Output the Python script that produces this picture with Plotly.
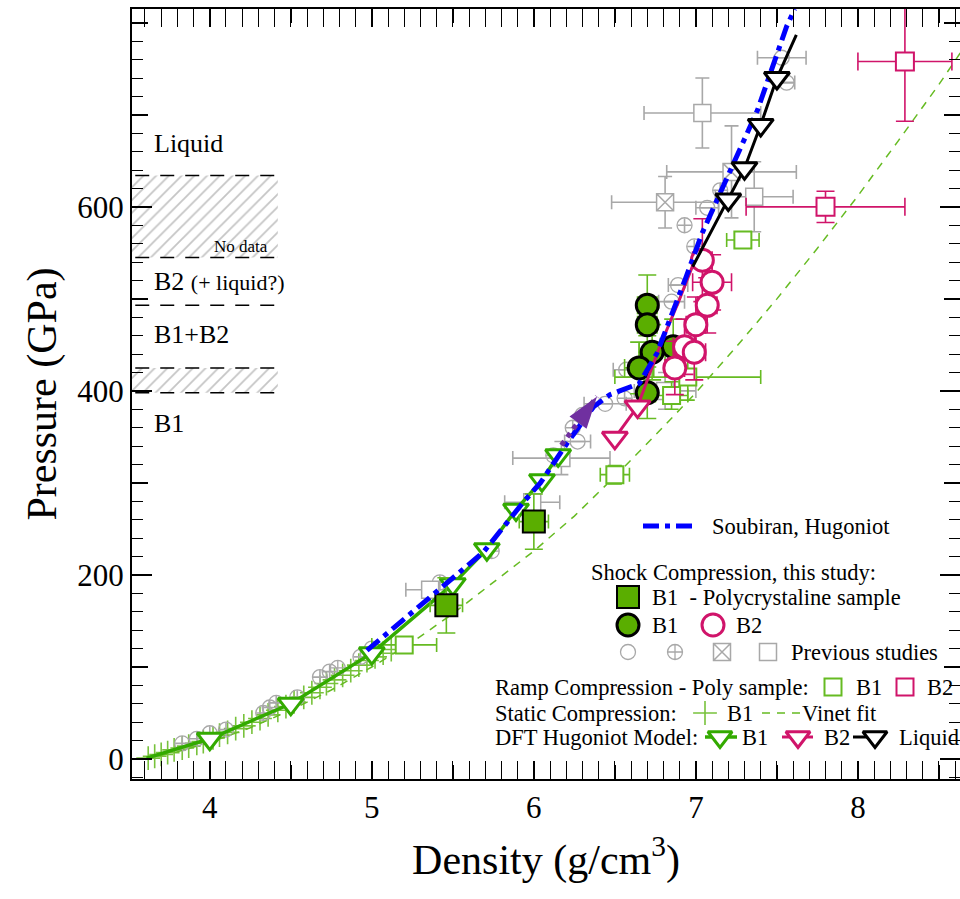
import plotly.graph_objects as go

FONT = "Liberation Serif"

# ---------------- colours ----------------
GREEN_FILL = "#5aae00"
GREEN_DFT = "#33aa00"
GREEN_LIGHT = "#78c23c"
GREEN_RAMP = "#66bb22"
CRIMSON = "#d0146a"
BLUE = "#0000ff"
PURPLE = "#7030a0"
GRAY = "#a8a8a8"

# ---------------- data ----------------
# Static compression, B1 (diamond-anvil data)
static_d = [3.62, 3.66, 3.70, 3.74, 3.78, 3.83, 3.87, 3.92, 3.96, 4.02, 4.06, 4.11, 4.16, 4.21,
            4.26, 4.31, 4.36, 4.42, 4.47, 4.52, 4.58, 4.63, 4.68, 4.72, 4.77, 4.82, 4.87, 4.92,
            4.97, 5.02, 5.07, 5.12]
static_p = [1, 3, 5, 7, 10, 12, 14, 17, 19, 23, 26, 29, 33, 36,
            40, 44, 48, 53, 57, 62, 67, 72, 78, 82, 86, 91, 96, 102,
            107, 111, 115, 119]

# Vinet fit of the static data
vinet_d = [3.60, 3.80, 4.00, 4.25, 4.50, 4.75, 5.00, 5.25, 5.50, 5.75, 6.00, 6.25, 6.50,
           6.75, 7.00, 7.25, 7.50, 7.75, 8.00, 8.25, 8.50, 8.65]
vinet_p = [0, 8, 18, 34, 53, 75, 100, 127, 158, 192, 226, 264, 307,
           352, 398, 448, 500, 555, 612, 672, 733, 772]

# Previous shock studies
prev_circ_d = [3.83, 3.92, 4.00, 4.10, 4.33, 4.37, 4.41, 4.54, 4.68, 4.74, 4.93, 5.00, 5.42,
               6.12, 6.24, 6.27, 6.30, 6.44, 6.56, 6.57, 6.85, 6.89, 6.93, 6.99, 7.07, 7.15,
               7.53, 7.56]
prev_circ_p = [17, 22, 28, 32, 50, 56, 61, 67, 89, 95, 111, 120, 192,
               330, 360, 345, 374, 386, 392, 423, 497, 515, 580, 557, 599, 618,
               762, 735]
prev_circ_xerr = [0, 0, 0, 0, 0, 0, 0, 0, 0, 0, 0, 0, 0,
                  0, 0, 0.08, 0, 0.13, 0, 0.08, 0.08, 0.06, 0, 0, 0.07, 0,
                  0.15, 0.05]
prev_circ_yerr = [0, 0, 0, 0, 0, 0, 0, 0, 0, 0, 0, 0, 0,
                  0, 0, 0, 0, 0, 0, 0, 0, 0, 0, 0, 0, 0,
                  0, 0]

prev_cplus_d = [4.79, 5.74]
prev_cplus_p = [99, 226]

prev_sqx_d = [6.81, 7.22]
prev_sqx_p = [605, 638]
prev_sqx_xerr = [0.33, 0.40]
prev_sqx_yerr = [28, 50]

prev_sq_d = [5.36, 5.99, 6.17, 6.81, 7.04, 7.36]
prev_sq_p = [184, 279, 327, 400, 702, 611]
prev_sq_xerr = [0.15, 0.17, 0.30, 0.19, 0.36, 0.24]
prev_sq_yerr = [0, 0, 18, 20, 38, 38]

# Ramp compression, polycrystalline sample
ramp_b1_d = [5.20, 6.50, 6.85, 6.95, 7.29]
ramp_b1_p = [124, 309, 395, 415, 564]
ramp_b1_xerr = [0.20, 0.09, 0.10, 0.45, 0.10]
ramp_b1_yerr = [0, 10, 15, 25, 8]

ramp_b2_d = [7.80, 8.29]
ramp_b2_p = [600, 758]
ramp_b2_xerr = [0.49, 0.29]
ramp_b2_yerr = [17, 65]

# DFT Hugoniot model
dft_b1_d = [3.61, 4.00, 4.50, 5.00, 5.50, 5.71, 5.89, 6.05, 6.15]
dft_b1_p = [1, 22, 60, 115, 190, 228, 271, 303, 330]
dft_b1_mark = [False, True, True, True, True, True, True, True, True]

dft_b2_d = [6.50, 6.64, 6.77, 6.90, 7.00]
dft_b2_p = [349, 383, 445, 500, 545]
dft_b2_mark = [True, True, False, False, False]

dft_liq_d = [6.98, 7.20, 7.30, 7.40, 7.50, 7.62]
dft_liq_p = [535, 608, 642, 689, 740, 787]
dft_liq_mark = [False, True, True, True, True, False]

# Soubiran Hugoniot
soub_d = [4.97, 5.36, 5.69, 5.93, 6.04, 6.22, 6.37, 6.47, 6.55, 6.65, 6.76, 6.84, 6.94,
          7.04, 7.23, 7.38, 7.56, 7.61]
soub_p = [118, 176, 225, 278, 300, 347, 383, 396, 401, 408, 441, 477, 524,
          572, 648, 705, 796, 815]

# B1 -> B2 path
path_d = [6.17, 6.39]
path_p = [341, 394]

# Shock compression, this study
poly_b1_d = [5.46, 6.00]
poly_b1_p = [167, 258]
poly_b1_xerr = [0.10, 0.09]
poly_b1_yerr = [30, 30]

shock_b1_d = [6.86, 6.70, 6.70, 6.73, 6.65, 6.70]
shock_b1_p = [448, 493, 472, 442, 425, 398]
shock_b1_xerr = [0.08, 0.06, 0.06, 0.08, 0.09, 0.05]
shock_b1_yerr = [30, 33, 30, 30, 28, 28]

shock_b2_d = [7.04, 7.10, 7.07, 7.00, 6.93, 6.99, 6.87]
shock_b2_p = [542, 518, 493, 472, 448, 442, 425]
shock_b2_xerr = [0.06, 0.12, 0.06, 0.06, 0.07, 0.07, 0.06]
shock_b2_yerr = [45, 30, 30, 30, 30, 30, 29]

# Phase regions on the pressure axis
phase_bounds = [634, 545, 493, 425, 398]
hatch_bands = [(545, 634), (398, 425)]
phase_x_max = 4.42

# Axis ticks
x_major = [4, 5, 6, 7, 8]
x_mid = [3.5, 4.5, 5.5, 6.5, 7.5, 8.5]
y_major = [0, 200, 400, 600]
y_mid = [100, 300, 500, 700, 800]

X_RANGE = [3.52, 8.63]
Y_RANGE = [-21.7, 815]

fig = go.Figure()


def errs(arr, color, cap=7):
    return dict(type="data", array=arr, visible=True, color=color, thickness=1.6, width=cap)


# hatched bands
for lo, hi in hatch_bands:
    fig.add_trace(go.Scatter(
        x=[X_RANGE[0], phase_x_max, phase_x_max, X_RANGE[0], X_RANGE[0]],
        y=[lo, lo, hi, hi, lo], mode="lines", fill="toself",
        line=dict(width=0), fillcolor="rgba(0,0,0,0)",
        fillpattern=dict(shape="/", fgcolor="#8c8c8c", bgcolor="white", size=9, solidity=0.2),
        hoverinfo="skip", showlegend=False))

# static compression crosses
fig.add_trace(go.Scatter(
    x=static_d, y=static_p, mode="markers",
    marker=dict(symbol="cross-thin-open", size=17, color=GREEN_LIGHT,
                line=dict(color=GREEN_LIGHT, width=1.6)),
    showlegend=False))

# previous studies
fig.add_trace(go.Scatter(
    x=prev_circ_d, y=prev_circ_p, mode="markers",
    error_x=errs(prev_circ_xerr, GRAY), error_y=errs(prev_circ_yerr, GRAY),
    marker=dict(symbol="circle-open", size=15, color=GRAY, line=dict(color=GRAY, width=1.3)),
    showlegend=False))
fig.add_trace(go.Scatter(
    x=prev_cplus_d, y=prev_cplus_p, mode="markers",
    marker=dict(symbol="circle-cross-open", size=15, color=GRAY, line=dict(color=GRAY, width=1.3)),
    showlegend=False))
fig.add_trace(go.Scatter(
    x=prev_sq_d, y=prev_sq_p, mode="markers",
    error_x=errs(prev_sq_xerr, GRAY), error_y=errs(prev_sq_yerr, GRAY),
    marker=dict(symbol="square", size=17, color="white", line=dict(color=GRAY, width=1.5)),
    showlegend=False))
fig.add_trace(go.Scatter(
    x=prev_sqx_d, y=prev_sqx_p, mode="markers",
    error_x=errs(prev_sqx_xerr, GRAY), error_y=errs(prev_sqx_yerr, GRAY),
    marker=dict(symbol="square-x", size=17, color="white", line=dict(color=GRAY, width=1.5)),
    showlegend=False))

# Vinet fit
fig.add_trace(go.Scatter(
    x=vinet_d, y=vinet_p, mode="lines",
    line=dict(color=GREEN_RAMP, width=1.5, dash="8px,7px"), showlegend=False))

# ramp compression
fig.add_trace(go.Scatter(
    x=ramp_b1_d, y=ramp_b1_p, mode="markers",
    error_x=errs(ramp_b1_xerr, GREEN_RAMP), error_y=errs(ramp_b1_yerr, GREEN_RAMP),
    marker=dict(symbol="square", size=17, color="white", line=dict(color=GREEN_RAMP, width=2)),
    showlegend=False))
fig.add_trace(go.Scatter(
    x=ramp_b2_d, y=ramp_b2_p, mode="markers",
    error_x=errs(ramp_b2_xerr, CRIMSON, 9), error_y=errs(ramp_b2_yerr, CRIMSON, 9),
    marker=dict(symbol="square", size=18, color="white", line=dict(color=CRIMSON, width=2)),
    showlegend=False))


def dft_trace(d, p, mark, color, width):
    fig.add_trace(go.Scatter(x=d, y=p, mode="lines", line=dict(color=color, width=width),
                             showlegend=False))
    md = [v for v, m in zip(d, mark) if m]
    mp = [v for v, m in zip(p, mark) if m]
    fig.add_trace(go.Scatter(x=md, y=mp, mode="markers",
                             marker=dict(symbol="triangle-down", size=22, color="white",
                                         line=dict(color=color, width=3)),
                             showlegend=False))


# DFT B1 model
dft_trace(dft_b1_d, dft_b1_p, dft_b1_mark, GREEN_DFT, 3.5)

# shock: polycrystalline B1
fig.add_trace(go.Scatter(
    x=poly_b1_d, y=poly_b1_p, mode="markers",
    error_x=errs(poly_b1_xerr, GREEN_RAMP), error_y=errs(poly_b1_yerr, GREEN_RAMP, 9),
    marker=dict(symbol="square", size=22, color=GREEN_FILL, line=dict(color="black", width=2)),
    showlegend=False))

# shock: B1 circles
fig.add_trace(go.Scatter(
    x=shock_b1_d, y=shock_b1_p, mode="markers",
    error_x=errs(shock_b1_xerr, GREEN_RAMP, 9), error_y=errs(shock_b1_yerr, GREEN_RAMP, 9),
    marker=dict(symbol="circle", size=22, color=GREEN_FILL, line=dict(color="black", width=3)),
    showlegend=False))

# DFT B2 model
dft_trace(dft_b2_d, dft_b2_p, dft_b2_mark, CRIMSON, 3)

# shock: B2 circles
fig.add_trace(go.Scatter(
    x=shock_b2_d, y=shock_b2_p, mode="markers",
    error_x=errs(shock_b2_xerr, CRIMSON, 9), error_y=errs(shock_b2_yerr, CRIMSON, 9),
    marker=dict(symbol="circle", size=22, color="white", line=dict(color=CRIMSON, width=3)),
    showlegend=False))

# Soubiran Hugoniot
fig.add_trace(go.Scatter(
    x=soub_d, y=soub_p, mode="lines",
    line=dict(color=BLUE, width=5, dash="16px,6px,5px,6px"), showlegend=False))

# DFT liquid model
dft_trace(dft_liq_d, dft_liq_p, dft_liq_mark, "black", 3)

# B1 -> B2 transformation path, ending in an arrow head
fig.add_trace(go.Scatter(
    x=path_d, y=path_p, mode="lines",
    line=dict(color=PURPLE, width=5, dash="5px,5px"), showlegend=False))
fig.add_trace(go.Scatter(
    x=path_d[1:], y=path_p[1:], mode="markers",
    marker=dict(symbol="arrow", size=34, color=PURPLE, angle=36, line=dict(width=0)),
    showlegend=False))

# phase boundaries
for b in phase_bounds:
    fig.add_shape(type="line", xref="x", yref="y", x0=X_RANGE[0] + 0.02, x1=phase_x_max,
                  y0=b, y1=b, line=dict(color="black", width=1.5, dash="14px,11px"))

# ---------- pixel-space overlay for the key and region labels ----------
PX = [132, 960]
PY = [779, 9]


def txt(x, y, s, size=22.5, anchor="left"):
    fig.add_annotation(x=x, y=y, xref="x2", yref="y2", text=s, showarrow=False,
                       xanchor=anchor, yanchor="middle",
                       font=dict(family=FONT, size=size, color="black"))


def key_marker(x, y, symbol, size, color, lcolor, lw):
    fig.add_trace(go.Scatter(x=[x], y=[y], xaxis="x2", yaxis="y2", mode="markers",
                             marker=dict(symbol=symbol, size=size, color=color,
                                         line=dict(color=lcolor, width=lw)),
                             showlegend=False, cliponaxis=False))


def key_line(x0, x1, y, color, width, dash="solid"):
    fig.add_trace(go.Scatter(x=[x0, x1], y=[y, y], xaxis="x2", yaxis="y2", mode="lines",
                             line=dict(color=color, width=width, dash=dash),
                             showlegend=False, cliponaxis=False))


# region labels
txt(152, 143, "Liquid", 26)
txt(212, 246, "No data", 17)
txt(152, 281, "B2 <span style='font-size:22px'>(+ liquid?)</span>", 26)
txt(152, 334, "B1+B2", 26)
txt(152, 423, "B1", 26)

# key
key_line(643, 697, 526, BLUE, 5, "16px,6px,5px,6px")
txt(710, 526, "Soubiran, Hugoniot")
txt(589, 572, "Shock Compression, this study:")
key_marker(628, 597, "square", 22, GREEN_FILL, "black", 2)
txt(650, 597, "B1  - Polycrystaline sample")
key_marker(628, 625, "circle", 22, GREEN_FILL, "black", 3)
txt(650, 625, "B1")
key_marker(713, 625, "circle", 22, "white", CRIMSON, 3)
txt(734, 625, "B2")
key_marker(628, 652, "circle-open", 15, GRAY, GRAY, 1.3)
key_marker(675, 652, "circle-cross-open", 15, GRAY, GRAY, 1.3)
key_marker(722, 652, "square-x", 17, "white", GRAY, 1.5)
key_marker(768, 652, "square", 17, "white", GRAY, 1.5)
txt(789, 652, "Previous studies")

txt(493, 687, "Ramp Compression - Poly sample:")
key_marker(833, 687, "square", 17, "white", GREEN_RAMP, 2)
txt(854, 687, "B1")
key_marker(905, 687, "square", 17, "white", CRIMSON, 2)
txt(925, 687, "B2")

txt(493, 713, "Static Compression:")
key_marker(705, 713, "cross-thin-open", 17, GREEN_LIGHT, GREEN_LIGHT, 1.6)
txt(725, 713, "B1")
key_line(762, 802, 713, GREEN_RAMP, 1.5, "8px,7px")
txt(800, 713, "Vinet fit")

txt(493, 737, "DFT Hugoniot Model:")
key_line(705, 737, 737, GREEN_DFT, 3.5)
key_marker(720, 737, "triangle-down", 21, "white", GREEN_DFT, 3)
txt(740, 737, "B1")
key_line(782, 813, 737, CRIMSON, 3)
key_marker(798, 737, "triangle-down", 21, "white", CRIMSON, 3)
txt(822, 737, "B2")
key_line(853, 873, 737, "black", 3)
key_marker(875, 737, "triangle-down", 21, "white", "black", 3)
txt(897, 737, "Liquid")

# empty traces so the extra tick axes get drawn
fig.add_trace(go.Scatter(x=[], y=[], xaxis="x3", yaxis="y", showlegend=False))
fig.add_trace(go.Scatter(x=[], y=[], xaxis="x", yaxis="y3", showlegend=False))
fig.add_trace(go.Scatter(x=[], y=[], xaxis="x", yaxis="y4", showlegend=False))

# ---------------- axes ----------------
tick_common = dict(ticks="inside", tickwidth=1.5, tickcolor="black", showgrid=False,
                   zeroline=False)

fig.update_layout(
    width=960, height=895,
    margin=dict(l=132, r=0, t=9, b=116),
    paper_bgcolor="white", plot_bgcolor="white",
    font=dict(family=FONT, color="black"),
    showlegend=False,
    xaxis=dict(range=X_RANGE, tickmode="array", tickvals=x_major, ticklen=18,
               minor=dict(dtick=0.1, tick0=0, ticks="inside", ticklen=9, tickwidth=1.3,
                          tickcolor="black"),
               showline=True, linewidth=2, linecolor="black", mirror="allticks",
               tickfont=dict(family=FONT, size=31),
               title=dict(text="Density (g/cm<sup>3</sup>)", font=dict(family=FONT, size=42),
                          standoff=20),
               **tick_common),
    xaxis3=dict(overlaying="x", anchor="y", range=X_RANGE, tickmode="array", tickvals=x_mid,
                ticklen=14, showticklabels=False, showline=False, mirror="ticks",
                side="bottom", fixedrange=True, **tick_common),
    yaxis=dict(range=Y_RANGE, tickmode="array", tickvals=y_major, ticklen=20,
               minor=dict(dtick=20, tick0=0, ticks="inside", ticklen=11, tickwidth=1.3,
                          tickcolor="black"),
               showline=True, linewidth=2, linecolor="black", mirror=False,
               tickfont=dict(family=FONT, size=31),
               title=dict(text="Pressure (GPa)", font=dict(family=FONT, size=42), standoff=8),
               **tick_common),
    yaxis3=dict(overlaying="y", anchor="x", range=Y_RANGE, tickmode="array", tickvals=y_mid,
                ticklen=16, showticklabels=False, showline=False, mirror="ticks",
                side="left", fixedrange=True, **tick_common),
    yaxis4=dict(overlaying="y", anchor="x", range=Y_RANGE, tickmode="array", tickvals=y_major,
                ticklen=20, showticklabels=False, showline=False, side="right",
                minor=dict(dtick=20, tick0=0, ticks="inside", ticklen=11, tickwidth=1.3,
                           tickcolor="black"),
                fixedrange=True, **tick_common),
    xaxis2=dict(overlaying="x", anchor="y2", range=PX, visible=False, fixedrange=True),
    yaxis2=dict(overlaying="y", anchor="x2", range=PY, visible=False, fixedrange=True),
)

fig.write_html("out.html")
